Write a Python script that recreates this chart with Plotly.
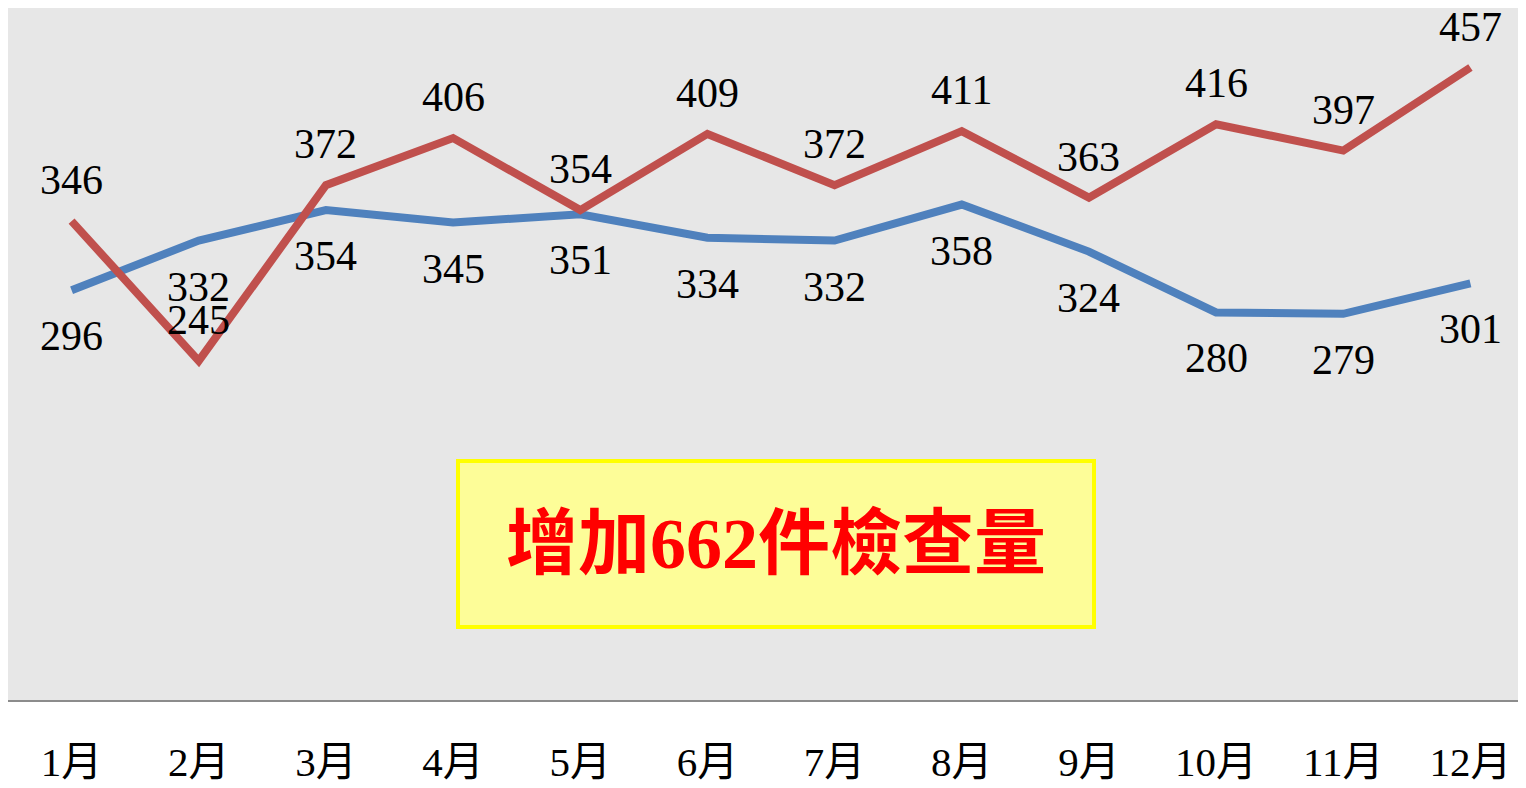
import plotly.graph_objects as go

months = ['1月', '2月', '3月', '4月', '5月', '6月', '7月', '8月', '9月', '10月', '11月', '12月']
blue_values = [296, 332, 354, 345, 351, 334, 332, 358, 324, 280, 279, 301]
red_values = [346, 245, 372, 406, 354, 409, 372, 411, 363, 416, 397, 457]
note_text = '增加662件檢查量'

FONT = 'Times New Roman, Liberation Serif, Noto Sans CJK TC, serif'

fig = go.Figure()

fig.add_trace(go.Scatter(
    x=months, y=blue_values, mode='lines', name='blue',
    line=dict(color='#4f81bd', width=8)
))
fig.add_trace(go.Scatter(
    x=months, y=red_values, mode='lines', name='red',
    line=dict(color='#c0504d', width=8)
))

# data labels: red above the line, blue below
for m, v in zip(months, blue_values):
    fig.add_annotation(x=m, y=v, text=str(v), showarrow=False, yshift=-46,
                       font=dict(family=FONT, size=42, color='black'))
for m, v in zip(months, red_values):
    fig.add_annotation(x=m, y=v, text=str(v), showarrow=False, yshift=41,
                       font=dict(family=FONT, size=42, color='black'))

fig.add_annotation(
    xref='paper', yref='paper', x=0.503, y=0.225,
    xanchor='center', yanchor='middle',
    text=f'<b>{note_text}</b>', showarrow=False,
    width=630, height=160,
    bgcolor='#fdfd98', bordercolor='#ffff00', borderwidth=4,
    font=dict(family=FONT, size=72, color='#ff0000')
)

fig.update_layout(
    width=1526, height=788,
    margin=dict(l=0, r=0, t=0, b=96, autoexpand=False),
    paper_bgcolor='white', plot_bgcolor='#e7e7e7',
    showlegend=False,
    font=dict(family=FONT, size=41, color='black'),
    xaxis=dict(range=[-0.5, 11.5], showgrid=False, zeroline=False, showline=True,
               linecolor='#8c8c8c', linewidth=2, ticks='', automargin=False,
               ticklabelstandoff=25, tickfont=dict(family=FONT, size=41)),
    yaxis=dict(range=[0, 500], showgrid=False, zeroline=False,
               showticklabels=False, showline=False, automargin=False),
)

fig.write_html("out.html")
